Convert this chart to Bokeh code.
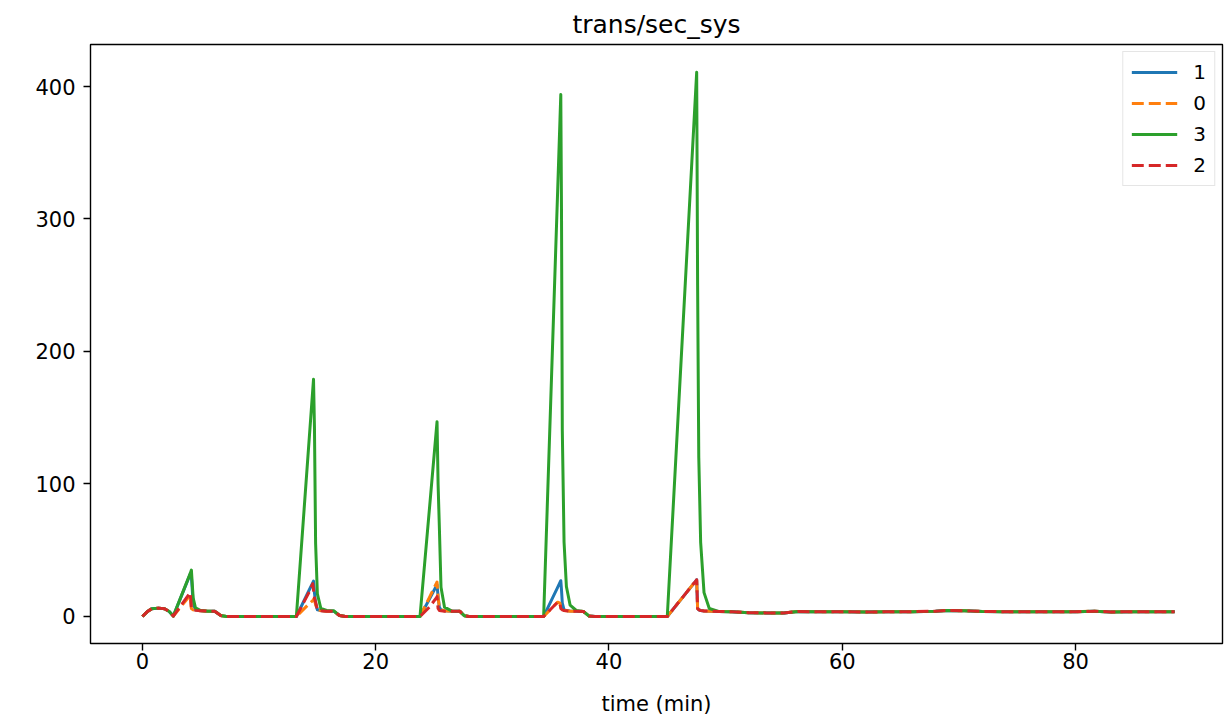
from bokeh.plotting import figure
from bokeh.models import Range1d, FixedTicker, Legend, LegendItem, ColumnDataSource
from bokeh.embed import file_html
from bokeh.resources import INLINE

# time axis (minutes)
time_min = [
    0.0, 0.4, 0.8, 1.4, 1.9, 2.3, 2.65,
    4.1, 4.2, 4.35, 4.55, 5.0, 5.6, 6.2, 6.7, 7.2,
    13.2, 14.3, 14.6, 14.67, 14.75, 14.85, 15.0, 15.3, 15.8, 16.4, 16.9, 17.4,
    23.8, 24.6, 25.2, 25.26, 25.35, 25.46, 25.6, 25.9, 26.5, 27.2, 27.6, 28.0,
    34.4, 35.6, 35.8, 35.87, 35.93, 36.0, 36.15, 36.35, 36.67, 37.2, 37.8, 38.3, 38.8,
    45.0, 47.45, 47.52, 47.6, 47.7, 47.86, 48.15, 48.6, 49.4,
    50.5, 52.0, 53.5, 55.0, 56.2, 58.0, 60.0, 62.0, 64.0, 66.0, 68.0, 69.0, 70.5,
    72.0, 74.0, 76.0, 78.0, 80.0, 81.6, 83.0, 85.0, 87.0, 88.5,
]

tail = [3.6, 2.8, 2.7, 2.6, 3.8, 3.5, 3.6, 3.4, 3.5, 3.6, 4.0, 4.5, 4.3,
        3.8, 3.6, 3.5, 3.5, 3.6, 4.0, 3.4, 3.6, 3.5, 3.5]

series_1 = [
    0, 3.5, 5.8, 6.3, 5.8, 3.8, 0.3,
    32, 30, 10, 5, 4.3, 4, 4, 0.8, 0,
    0, 20, 25.4, 26.7, 18, 10, 5, 4.5, 4, 4, 0.7, 0,
    0, 13, 23, 24, 15, 7, 5, 4.3, 4, 4, 0.5, 0,
    0, 22, 25.7, 27, 20, 10, 5, 4.5, 4.2, 4, 3.8, 0.3, 0,
    0, 26.9, 27.7, 6, 5, 4.5, 4.2, 4, 3.8,
] + tail

series_0 = [
    0, 3.5, 5.8, 6.3, 5.8, 3.8, 0.3,
    16, 6, 5, 4.6, 4.3, 4, 4, 0.8, 0,
    0, 9.6, 12, 13, 12.6, 9, 5, 4.5, 4, 4, 0.7, 0,
    0, 14.2, 25, 26, 14, 7, 5, 4.3, 4, 4, 0.5, 0,
    0, 10.8, 10, 6, 5.5, 5, 4.5, 4.3, 4, 4, 3.8, 0.3, 0,
    0, 26.9, 27.7, 6, 5, 4.5, 4.2, 4, 3.8,
] + tail

series_3 = [
    0, 3.5, 5.8, 6.3, 5.8, 3.8, 0.3,
    32.5, 35, 14, 6.5, 4.5, 4, 4, 0.8, 0,
    0, 134, 170.5, 179, 143, 55, 17, 6, 4.5, 4.3, 0.7, 0,
    0, 80.5, 141, 147, 100, 67, 22, 7, 4.2, 4, 0.5, 0,
    0, 321, 375, 394, 307, 140, 56, 22.6, 8.5, 4.5, 3.8, 0.3, 0,
    0, 399.3, 410.7, 250, 120, 56, 18, 6, 3.8,
] + tail

series_2 = [
    0, 3.5, 5.8, 6.3, 5.8, 3.8, 0.3,
    18, 6, 5, 4.6, 4.3, 4, 4, 0.8, 0,
    0, 18.5, 24.7, 20, 14, 10.8, 5, 4.3, 4, 4, 0.7, 0,
    0, 7, 14, 15, 6, 4.5, 4.3, 4, 4, 4, 0.5, 0,
    0, 10.8, 10, 6, 5.5, 5, 4.5, 4.3, 4, 4, 3.8, 0.3, 0,
    0, 26.9, 27.7, 6, 5, 4.5, 4.2, 4, 3.8,
] + tail

labels = ["1", "0", "3", "2"]
colors = ["#1f77b4", "#ff7f0e", "#2ca02c", "#d62728"]
dashes = ["solid", "12 5", "solid", "12 5"]
x_ticks = [0, 20, 40, 60, 80]
y_ticks = [0, 100, 200, 300, 400]

FONT = "DejaVu Sans"

p = figure(
    width=1227, height=718,
    x_range=Range1d(-4.45, 92.6), y_range=Range1d(-20.4, 431.7),
    output_backend="svg", toolbar_location=None,
    min_border_left=90, min_border_right=5, min_border_top=44, min_border_bottom=75,
    title="trans/sec_sys",
)
p.title.align = "center"
p.title.text_font = FONT
p.title.text_font_size = "25px"
p.title.text_font_style = "normal"
p.title.text_color = "black"
p.title.standoff = 12

p.xgrid.visible = False
p.ygrid.visible = False
p.outline_line_color = "black"
p.outline_line_width = 1.4
p.outline_line_alpha = 1.0
p.background_fill_color = "white"
p.border_fill_color = "white"

p.xaxis.ticker = FixedTicker(ticks=x_ticks)
p.yaxis.ticker = FixedTicker(ticks=y_ticks)
p.xaxis.axis_label = "time (min)"
for ax in (p.xaxis, p.yaxis):
    ax.axis_line_color = None
    ax.major_tick_out = 7
    ax.major_tick_in = 0
    ax.minor_tick_out = 0
    ax.minor_tick_in = 0
    ax.major_tick_line_color = "black"
    ax.major_tick_line_width = 1.4
    ax.major_label_text_font = FONT
    ax.major_label_text_font_size = "21px"
    ax.major_label_text_color = "black"
    ax.axis_label_text_font = FONT
    ax.axis_label_text_font_size = "21px"
    ax.axis_label_text_font_style = "normal"
    ax.axis_label_text_color = "black"
p.xaxis.major_label_standoff = 2
p.xaxis.axis_label_standoff = 20
p.yaxis.major_label_standoff = 8

src = ColumnDataSource(dict(t=time_min, s1=series_1, s0=series_0, s3=series_3, s2=series_2))
items = []
for key, lab, col, dash in zip(["s1", "s0", "s3", "s2"], labels, colors, dashes):
    r = p.line("t", key, source=src, line_color=col, line_width=3,
               line_dash=dash, line_join="round")
    items.append(LegendItem(label=lab, renderers=[r]))

legend = Legend(
    items=items, location="top_right",
    label_text_font=FONT, label_text_font_size="20px", label_text_color="black",
    glyph_width=46, glyph_height=20, label_standoff=16, label_width=12,
    spacing=7, padding=8, margin=7,
    border_line_color="#cccccc", border_line_width=1.5,
    background_fill_alpha=0.8,
)
p.add_layout(legend)

open("out.html", "w").write(file_html(p, INLINE))
